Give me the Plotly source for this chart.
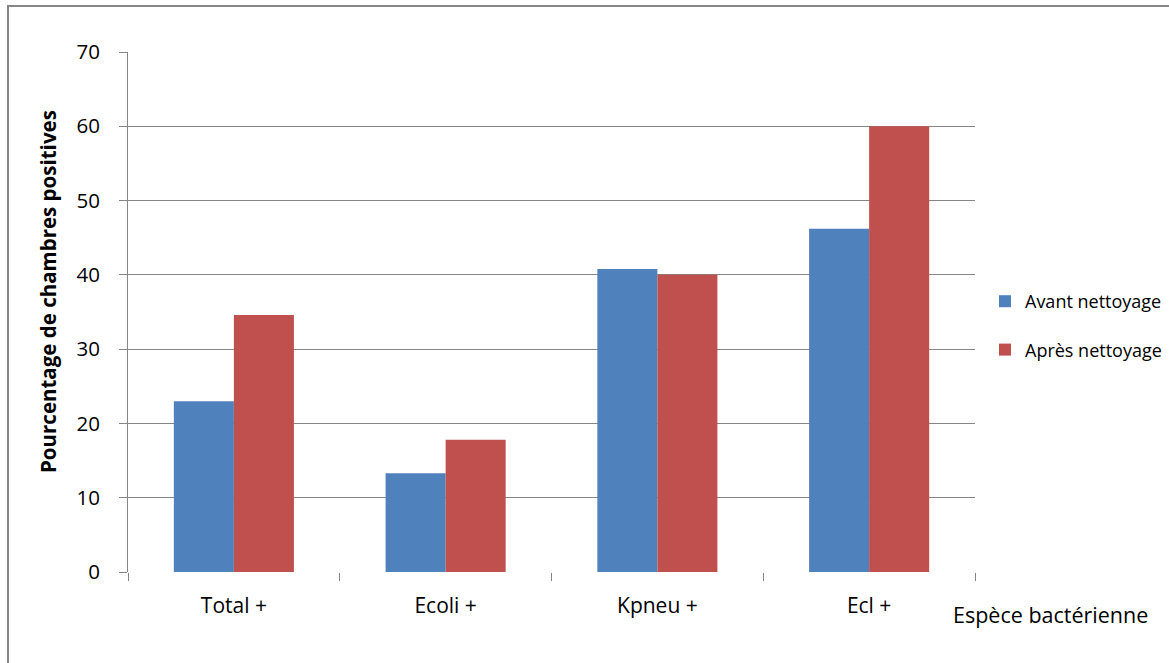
import plotly.graph_objects as go

categories = ["Total +", "Ecoli +", "Kpneu +", "Ecl +"]
avant = [23.0, 13.3, 40.8, 46.2]
apres = [34.6, 17.8, 40.0, 60.0]
series_names = ["Avant nettoyage", "Après nettoyage"]
y_ticks = [0, 10, 20, 30, 40, 50, 60, 70]

FONT = "Open Sans"
GRID = "#868686"

fig = go.Figure()
fig.add_trace(go.Bar(x=categories, y=avant, name=series_names[0],
                     marker=dict(color="#4F81BD", line=dict(width=0)),
                     legendgroup="a"))
fig.add_trace(go.Bar(x=categories, y=apres, name=series_names[1],
                     marker=dict(color="#C0504D", line=dict(width=0)),
                     legendgroup="b"))

W, H = 1169, 663
L, R, T, B = 128, 1169 - 975, 52, 663 - 572
pw, ph = W - L - R, H - T - B

def px_x(p):
    return (p - L) / pw

def px_y(p):
    return (H - B - p) / ph

fig.update_layout(
    width=W, height=H,
    margin=dict(l=L, r=R, t=T, b=B, pad=0, autoexpand=False),
    paper_bgcolor="white", plot_bgcolor="white",
    barmode="group", bargap=0.433, bargroupgap=0,
    font=dict(family=FONT, color="#000000", size=20),
    showlegend=True,
    legend=dict(x=px_x(985), y=px_y(283), xanchor="left", yanchor="top",
                font=dict(family=FONT, size=18, color="#000000"),
                traceorder="grouped", tracegroupgap=22,
                bgcolor="rgba(0,0,0,0)", borderwidth=0),
    xaxis=dict(showline=False, showgrid=False, zeroline=False,
               ticks="outside", tickson="boundaries", ticklen=8,
               tickcolor=GRID, tickwidth=1,
               tickfont=dict(family=FONT, size=21, color="#000000"),
               ticklabelstandoff=19),
    yaxis=dict(range=[0, 70], tickvals=y_ticks,
               showline=True, linecolor=GRID, linewidth=1,
               showgrid=True, gridcolor=GRID, gridwidth=1.3,
               zeroline=False,
               ticks="outside", ticklen=8, tickcolor=GRID, tickwidth=1,
               tickfont=dict(family=FONT, size=20.5, color="#000000"),
               ticklabelstandoff=15),
    shapes=[dict(type="rect", xref="paper", yref="paper",
                 x0=px_x(8), y0=px_y(700), x1=px_x(1200), y1=px_y(6),
                 line=dict(color=GRID, width=2), fillcolor="rgba(0,0,0,0)",
                 layer="below")],
    annotations=[
        dict(text="<b>Pourcentage de chambres positives</b>", textangle=-90,
             xref="paper", yref="paper", x=px_x(48), y=px_y(292),
             xanchor="center", yanchor="middle", showarrow=False,
             font=dict(family=FONT, size=20.5, color="#000000")),
        dict(text="Espèce bactérienne", xref="paper", yref="paper",
             x=px_x(1050), y=px_y(614), xanchor="center", yanchor="middle",
             showarrow=False, font=dict(family=FONT, size=21.5, color="#000000")),
    ],
)

fig.write_html("out.html")
